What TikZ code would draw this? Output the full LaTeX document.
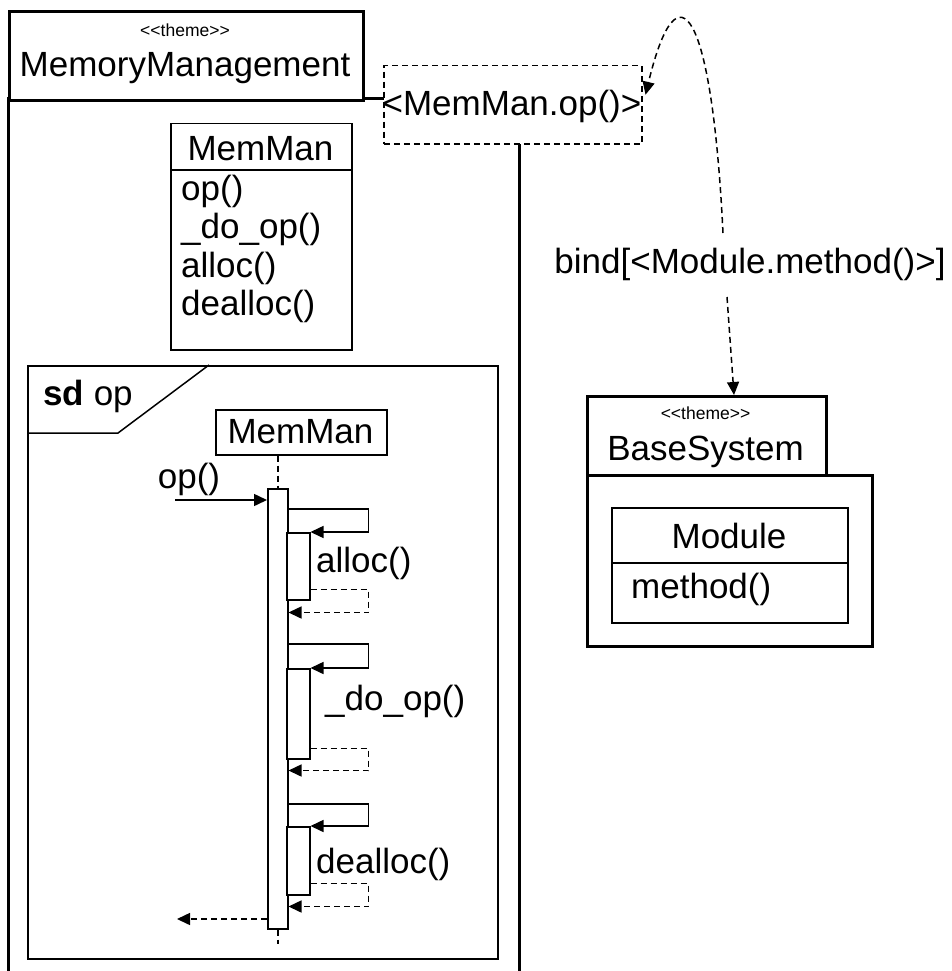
\documentclass[tikz,border=0pt]{standalone}
\usepackage{fontspec}
\setmainfont{Liberation Sans}
\usetikzlibrary{arrows.meta,calc}
\begin{document}
\begin{tikzpicture}[x=1pt,y=-1pt,
 big/.style={font=\fontsize{35}{42}\selectfont, inner sep=0pt},
 small/.style={font=\fontsize{17.5}{21}\selectfont, inner sep=0pt},
 pkg/.style={draw, line width=3pt, inner sep=0pt, anchor=north west, fill=white},
 box/.style={draw, line width=1.5pt, inner sep=0pt, anchor=north west, fill=white},
 ln/.style={line width=1.5pt},
 dsh/.style={line width=1.5pt, dash pattern=on 6pt off 4pt},
 tip/.style={-{Triangle[length=13pt,width=12pt]}},
]
\useasboundingbox (0,0) rectangle (951,971);

% MemoryManagement package
\draw[line width=3pt] (8,990) -- (8,99) -- (519,99) -- (519,990);
\node[pkg, minimum width=354pt, minimum height=89pt] (mmtab) at (8,10) {};
\node[small, anchor=base] (mmst) at (185,37) {<\kern0pt<theme>\kern0pt>};
\node[big, anchor=base] (mmname) at (185,77) {MemoryManagement};

% class MemMan
\node[box, minimum width=181pt, minimum height=226pt] (cls) at (170,123) {};
\draw[ln] ($(cls.north west)+(0,47)$) -- ($(cls.north east)+(0,47)$);
\node[big, anchor=base] (clsname) at (260.5,160) {MemMan};
\node[big, anchor=base west] (m1) at (181,200) {op()};
\node[big, anchor=base west] (m2) at (181,238) {\_do\_op()};
\node[big, anchor=base west] (m3) at (181,277) {alloc()};
\node[big, anchor=base west] (m4) at (181,315) {dealloc()};

% sd frame
\node[draw, ln, anchor=north west, minimum width=470pt, minimum height=593pt, inner sep=0pt] (frame) at (27,365) {};
\draw[ln] (209,365) -- (118,433) -- (27,433);
\node[big, anchor=base west] (sdlabel) at (43,405) {\textbf{sd} op};

% lifeline
\node[box, minimum width=171pt, minimum height=45pt] (head) at (215,409) {};
\node[big, anchor=base] (headtxt) at (300.5,443) {MemMan};

\node[box, minimum width=20pt, minimum height=440pt] (a0) at (267,488) {};
\draw[dsh] (head.south -| a0.north) -- (a0.north);
\draw[dsh] (a0.south) -- ++(0,14);

\node[box, minimum width=23pt, minimum height=67pt] (a1) at (286,532) {};
\node[box, minimum width=23pt, minimum height=90pt] (a2) at (286,668) {};
\node[box, minimum width=23pt, minimum height=68pt] (a3) at (286,826) {};

% incoming op()
\coordinate (opsrc) at (175,500);
\draw[ln,tip] (opsrc) -- (opsrc -| a0.west);
\node[big, anchor=base] (oplbl) at (189,488) {op()};

% self call 1
\draw[ln,tip] ($(a1.north -| a0.east)+(0,-23)$) -| ($(a1.north east)+(58,0)$) -- (a1.north east);
\draw[dsh,tip] ($(a1.south east)+(0,-11)$) -| ($(a1.south east)+(58,12)$) -- ($(a1.south -| a0.east)+(0,12)$);
\node[big, anchor=base west] (l1) at (316,572) {alloc()};

% self call 2
\draw[ln,tip] ($(a2.north -| a0.east)+(0,-24)$) -| ($(a2.north east)+(58,0)$) -- (a2.north east);
\draw[dsh,tip] ($(a2.south east)+(0,-11)$) -| ($(a2.south east)+(58,11)$) -- ($(a2.south -| a0.east)+(0,11)$);
\node[big, anchor=base west] (l2) at (325,710) {\_do\_op()};

% self call 3
\draw[ln,tip] ($(a3.north -| a0.east)+(0,-22)$) -| ($(a3.north east)+(58,0)$) -- (a3.north east);
\draw[dsh,tip] ($(a3.south east)+(0,-12)$) -| ($(a3.south east)+(58,11)$) -- ($(a3.south -| a0.east)+(0,11)$);
\node[big, anchor=base west] (l3) at (316,873) {dealloc()};

% final return
\coordinate (retend) at (177,919);
\draw[dsh,tip] (retend -| a0.west) -- (retend);

% template parameter box
\node[draw, dsh, fill=white, anchor=north west, minimum width=258pt, minimum height=78pt, inner sep=0pt] (opbox) at (383,65) {};
\node[big, anchor=base] (optxt) at (512,116) {<MemMan.op()>};

% BaseSystem package
\node[pkg, minimum width=239pt, minimum height=79pt] (bstab) at (586,395) {};
\node[pkg, minimum width=285pt, minimum height=171pt] (bsbody) at (586,474) {};
\node[small, anchor=base] (bsst) at (705.5,419) {<\kern0pt<theme>\kern0pt>};
\node[big, anchor=base] (bsname) at (705.5,460) {BaseSystem};
\node[box, minimum width=236pt, minimum height=115pt] (mod) at (611,507) {};
\draw[ln] ($(mod.north west)+(0,56)$) -- ($(mod.north east)+(0,56)$);
\node[big, anchor=base] (modname) at (729,548) {Module};
\node[big, anchor=base west] (modm) at (631,598) {method()};

% bind
\node[big, anchor=base] (bind) at (750,273) {bind[<Module.method()>]};
\coordinate (cs) at (723,233);
\draw[dsh,tip] (cs) .. controls (712,10) and (678,-40) .. ($(opbox.east)+(3,-10)$);
\coordinate (cb) at (727,297);
\draw[dsh,tip] (cb) -- ($(bstab.north west)+(148,0)$);
\end{tikzpicture}
\end{document}
